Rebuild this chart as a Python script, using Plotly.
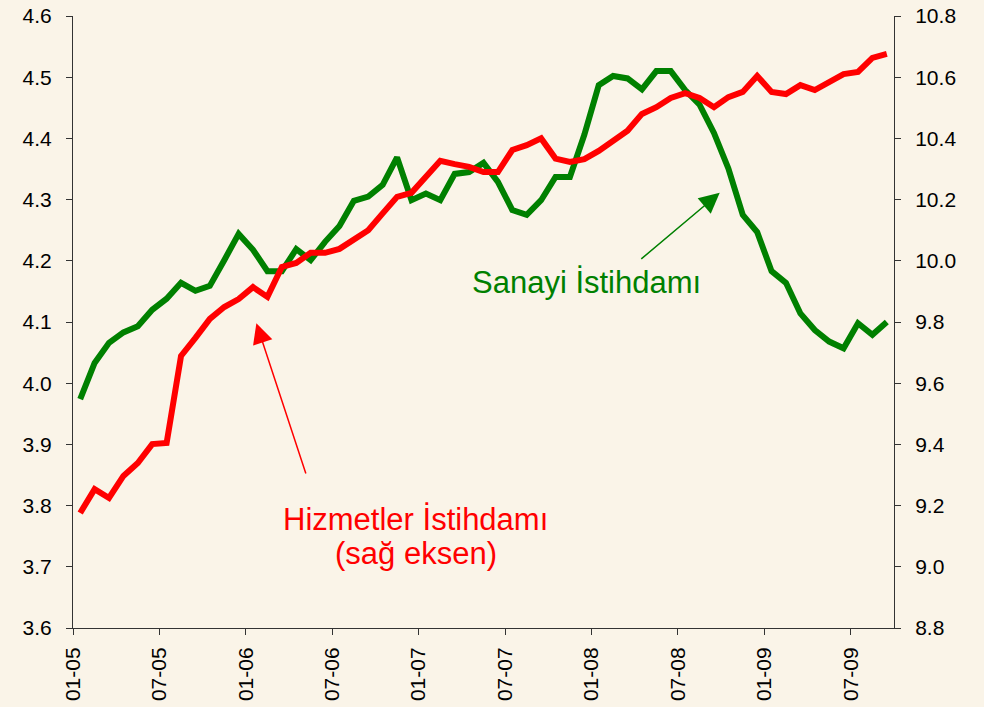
import plotly.graph_objects as go

# ---- data (monthly, 01-2005 .. 09-2009) ----
years = ["05", "06", "07", "08", "09"]
months = [f"{m:02d}-{y}" for y in years for m in range(1, 13)][:57]

sanayi = [3.974, 4.033, 4.066, 4.083, 4.093, 4.120, 4.138, 4.164, 4.151, 4.159,
          4.201, 4.244, 4.218, 4.183, 4.183, 4.219, 4.201, 4.231, 4.257, 4.298,
          4.305, 4.324, 4.369, 4.299, 4.310, 4.299, 4.342, 4.345, 4.360, 4.329,
          4.283, 4.275, 4.299, 4.337, 4.337, 4.406, 4.487, 4.502, 4.498, 4.480,
          4.510, 4.510, 4.479, 4.455, 4.409, 4.351, 4.275, 4.247, 4.183, 4.164,
          4.114, 4.087, 4.068, 4.057, 4.098, 4.079, 4.100]

hizmetler = [9.176, 9.254, 9.225, 9.297, 9.339, 9.401, 9.405, 9.689, 9.748, 9.810,
             9.849, 9.875, 9.914, 9.882, 9.980, 9.993, 10.026, 10.026, 10.039, 10.068,
             10.100, 10.155, 10.209, 10.222, 10.275, 10.327, 10.316, 10.307, 10.290, 10.290,
             10.362, 10.378, 10.400, 10.334, 10.323, 10.332, 10.359, 10.392, 10.425, 10.480,
             10.502, 10.532, 10.548, 10.532, 10.502, 10.535, 10.552, 10.604, 10.552, 10.545,
             10.574, 10.558, 10.585, 10.610, 10.617, 10.663, 10.676]

tick_idx = list(range(0, 57, 6))
tick_labels = [months[i] for i in tick_idx]

# ---- figure ----
x = [i + 0.5 for i in range(len(months))]
FONT = "Liberation Sans, Arial, sans-serif"
BG = "#FAF4E8"
GREEN = "#008000"
RED = "#FF0000"

fig = go.Figure()
fig.add_trace(go.Scatter(x=x, y=sanayi, mode="lines", name="Sanayi İstihdamı",
                         line=dict(color=GREEN, width=6), yaxis="y"))
fig.add_trace(go.Scatter(x=x, y=hizmetler, mode="lines", name="Hizmetler İstihdamı",
                         line=dict(color=RED, width=6), yaxis="y2"))

axis_common = dict(showgrid=False, zeroline=False, showline=True, linecolor="#333333",
                   linewidth=1, ticks="outside", ticklen=6, tickcolor="#333333",
                   automargin=False, ticklabeloverflow="allow",
                   tickfont=dict(family=FONT, size=21, color="#000000"))

fig.update_layout(
    width=984, height=707,
    margin=dict(l=73, r=90, t=16, b=79),
    paper_bgcolor=BG, plot_bgcolor=BG,
    showlegend=False,
    xaxis=dict(range=[0, 57], tickvals=tick_idx, ticktext=tick_labels, tickangle=-90,
               ticklabelstandoff=4, **axis_common),
    yaxis=dict(range=[3.6, 4.6], dtick=0.1, tickformat=".1f", ticklabelstandoff=10,
               **axis_common),
    yaxis2=dict(range=[8.8, 10.8], dtick=0.2, tickformat=".1f", overlaying="y",
                side="right", ticklabelstandoff=10, **axis_common),
)

ann_font = dict(family=FONT, size=31)
fig.add_annotation(x=35.66, y=4.164, xref="x", yref="y", text="Sanayi İstihdamı",
                   showarrow=False, font=dict(color=GREEN, **ann_font))
fig.add_annotation(x=23.78, y=3.778, xref="x", yref="y", text="Hizmetler İstihdamı",
                   showarrow=False, font=dict(color=RED, **ann_font))
fig.add_annotation(x=23.78, y=3.722, xref="x", yref="y", text="(sağ eksen)",
                   showarrow=False, font=dict(color=RED, **ann_font))

# arrows
fig.add_annotation(x=44.9, y=4.311, ax=39.35, ay=4.201, xref="x", yref="y",
                   axref="x", ayref="y", text="", showarrow=True, arrowhead=2,
                   arrowsize=2.7, arrowwidth=1.5, arrowcolor=GREEN)
fig.add_annotation(x=12.73, y=4.098, ax=16.2, ay=3.85, xref="x", yref="y",
                   axref="x", ayref="y", text="", showarrow=True, arrowhead=2,
                   arrowsize=2.7, arrowwidth=1.5, arrowcolor=RED)

fig.write_html(
    "out.html",
    config={"displayModeBar": False},
    post_script="document.body.style.margin='0';document.body.style.overflow='hidden';"
                "document.body.style.background='" + BG + "';",
)
